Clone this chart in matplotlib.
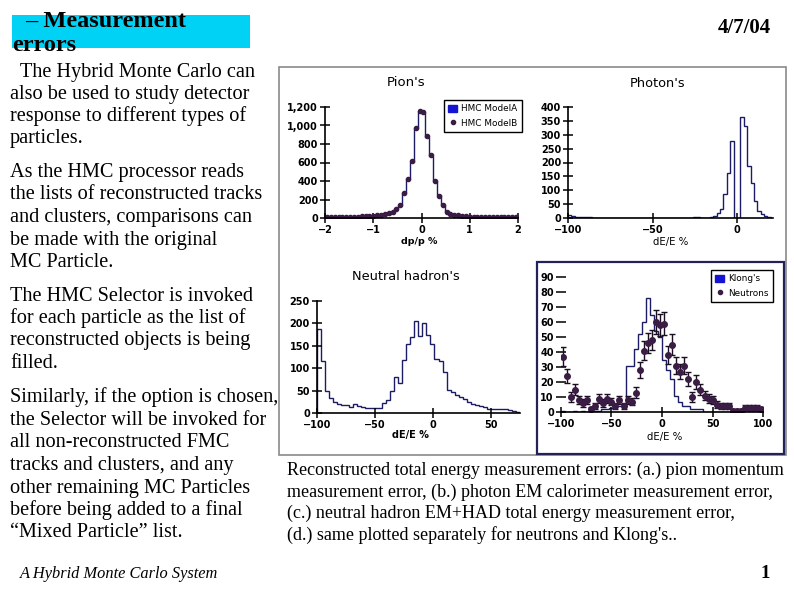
import numpy as np
import matplotlib
matplotlib.use('Agg')
import matplotlib.pyplot as plt
from matplotlib.patches import Rectangle, Patch
from matplotlib.lines import Line2D
from matplotlib.ticker import FuncFormatter

# ---------------- data ----------------
pion_centers = np.round(np.arange(-1.96, 1.97, 0.08), 2)
pion_modelB = [8, 9, 10, 10, 11, 12, 13, 14, 15, 17, 18, 20, 24, 28, 33, 40, 50, 60, 100, 144,
               267, 425, 612, 973, 1160,
               1150, 883, 677, 403, 241, 144, 60, 47, 36, 28, 22, 18, 15, 13, 12,
               11, 10, 9, 9, 8, 8, 7, 7, 6, 6]
pion_modelA = [7, 9, 10, 11, 11, 12, 12, 14, 15, 16, 18, 21, 23, 29, 34, 41, 52, 62, 98, 140,
               270, 420, 610, 975, 1155,
               1150, 880, 670, 400, 245, 140, 62, 46, 37, 27, 22, 18, 16, 13, 12,
               11, 10, 9, 8, 8, 8, 7, 7, 6, 6]
pion_ticks = [-2, -1, 0, 1, 2]

photon_edges = np.arange(-100, 21, 2)
photon_counts = [10, 7, 3, 5, 5, 4, 5] + [0] * 30 + \
                [4, 2, 0, 0, 1, 3, 6, 19, 34, 85, 161, 277, 0, 0,
                 365, 330, 186, 125, 60, 26, 15, 7, 3]
photon_ticks = [-100, -50, 0]

nh_edges = np.linspace(-100, 75, 51)
nh_counts = [187, 116, 50, 33, 25, 20, 18, 18, 14, 21,
             16, 14, 12, 12, 12, 12, 22, 28, 48, 80,
             68, 118, 155, 170, 206, 172, 200, 174, 155, 121,
             116, 92, 52, 46, 41, 36, 31, 25, 19, 17,
             16, 13, 9, 9, 8, 8, 8, 6, 5, 3]
nh_ticks = [-100, -50, 0, 50]

sep_edges = np.linspace(-100, 100, 51)
sep_centers = np.arange(-98, 99, 4)
klong_counts = [1, 0, 0, 1, 0, 1, 0, 1, 1, 1,
                2, 2, 3, 4, 4, 4, 31, 31, 42, 52,
                60, 76, 65, 54, 50, 35, 28, 22, 11, 7,
                4, 4, 2, 2, 2, 0, 0, 0, 0, 0,
                0, 0, 1, 1, 0, 0, 0, 0, 0, 0]
neutron_counts = [37, 24, 10, 15, 8, 6, 8, 2, 4, 9,
                  6, 9, 7, 4, 8, 4, 8, 7, 13, 28,
                  41, 46, 48, 60, 58, 59, 38, 45, 31, 27,
                  31, 22, 10, 20, 15, 11, 9, 8, 5, 4,
                  4, 4, 1, 1, 1, 3, 3, 3, 3, 2]
neutron_err = [6.1, 4.9, 3.2, 3.9, 2.8, 2.4, 2.8, 1.4, 2.0, 3.0,
               2.4, 3.0, 2.6, 2.0, 2.8, 2.0, 2.8, 2.6, 3.6, 5.3,
               6.4, 6.8, 6.9, 7.7, 7.6, 7.7, 6.2, 6.7, 5.6, 5.2,
               5.6, 4.7, 3.2, 4.5, 3.9, 3.3, 3.0, 2.8, 2.2, 2.0,
               2.0, 2.0, 1.0, 1.0, 1.0, 1.7, 1.7, 1.7, 1.7, 1.4]
sep_ticks = [-100, -50, 0, 50, 100]

left_text = [
    ("  The Hybrid Monte Carlo can", 77),
    ("also be used to study detector", 99),
    ("response to different types of", 121),
    ("particles.", 143),
    ("As the HMC processor reads", 177),
    ("the lists of reconstructed tracks", 199),
    ("and clusters, comparisons can", 222),
    ("be made with the original", 245),
    ("MC Particle.", 267),
    ("The HMC Selector is invoked", 301),
    ("for each particle as the list of", 323),
    ("reconstructed objects is being", 345),
    ("filled.", 368),
    ("Similarly, if the option is chosen,", 402),
    ("the Selector will be invoked for", 425),
    ("all non-reconstructed FMC", 447),
    ("tracks and clusters, and any", 470),
    ("other remaining MC Particles", 493),
    ("before being added to a final", 515),
    ("\u201cMixed Particle\u201d list.", 537),
]
caption = [
    "Reconstructed total energy measurement errors: (a.) pion momentum",
    "measurement error, (b.) photon EM calorimeter measurement error,",
    "(c.) neutral hadron EM+HAD total energy measurement error,",
    "(d.) same plotted separately for neutrons and Klong's..",
]

# ---------------- figure ----------------
W, H = 794, 595
fig = plt.figure(figsize=(W / 100, H / 100), dpi=100)
SERIF = ['Liberation Serif', 'DejaVu Serif']
NAVY = '#1c1c64'
DOT = '#3a1c44'
BLUE = '#1414d2'


def fx(x):
    return x / W


def fy(y):
    return 1 - y / H


def axes_px(l, t, r, b):
    return fig.add_axes([fx(l), fy(b), (r - l) / W, (b - t) / H])


def style(ax, show_left=True):
    for s in ['top', 'right']:
        ax.spines[s].set_visible(False)
    ax.spines['left'].set_visible(show_left)
    for s in ['left', 'bottom']:
        ax.spines[s].set_linewidth(1.2)
    ax.tick_params(direction='inout', length=7, width=1.1, labelsize=7, pad=1.5)
    for lab in ax.get_xticklabels() + ax.get_yticklabels():
        lab.set_fontweight('bold')
    ax.set_facecolor('none')


# header
fig.patches.append(Rectangle((fx(12), fy(48)), 238 / W, 33 / H, transform=fig.transFigure,
                             facecolor='#00d2f5', edgecolor='none', zorder=-2))
fig.text(fx(25), fy(27), "\u2013 Measurement", fontsize=17.5, fontweight='bold',
         family=SERIF, va='baseline', ha='left')
fig.text(fx(12), fy(51), "errors", fontsize=17.5, fontweight='bold',
         family=SERIF, va='baseline', ha='left')
fig.text(fx(771), fy(33), "4/7/04", fontsize=15, fontweight='bold',
         family=SERIF, va='baseline', ha='right')

for txt, yb in left_text:
    fig.text(fx(10), fy(yb), txt, fontsize=14.6, family=SERIF, va='baseline', ha='left')

for i, txt in enumerate(caption):
    fig.text(fx(287), fy(475 + 21.7 * i), txt, fontsize=13, family=SERIF,
             va='baseline', ha='left')

fig.text(fx(20), fy(578), "A Hybrid Monte Carlo System", fontsize=11.8, style='italic',
         family=SERIF, va='baseline', ha='left')
fig.text(fx(770), fy(578), "1", fontsize=13.5, fontweight='bold', family=SERIF,
         va='baseline', ha='right')

# frames
fig.patches.append(Rectangle((fx(279), fy(455)), (786 - 279) / W, (455 - 67) / H,
                             transform=fig.transFigure, facecolor='none',
                             edgecolor='#8a8a8a', lw=1.2, zorder=-1))
fig.patches.append(Rectangle((fx(537), fy(454)), (784 - 537) / W, (454 - 262) / H,
                             transform=fig.transFigure, facecolor='white',
                             edgecolor='#22225a', lw=1.6, zorder=-1))

# ---- (a) Pion's ----
ax = axes_px(325, 107, 518, 218)
ax.stairs(pion_modelA, np.linspace(-2, 2, 51), color=NAVY, lw=1.0)
ax.errorbar(pion_centers, pion_modelB, xerr=0.03, fmt='o', ms=3, color=DOT, lw=0.8,
            capsize=0)
ax.set_xlim(-2, 2)
ax.set_ylim(0, 1200)
ax.set_xticks(pion_ticks)
ax.set_yticks(range(0, 1201, 200))
ax.yaxis.set_major_formatter(FuncFormatter(lambda v, p: f"{v:,.0f}"))
ax.set_xticklabels(["\u22122", "\u22121", "0", "1", "2"])
style(ax)
fig.text(fx(406), fy(83), "Pion's", fontsize=9.5, ha='center', va='center')
fig.text(fx(419), fy(242), "dp/p %", fontsize=6.8, fontweight='bold', ha='center', va='center')
ax.legend([Patch(facecolor=BLUE, edgecolor=BLUE),
           Line2D([], [], marker='o', ls='none', color=DOT, ms=3)],
          ["HMC ModelA", "HMC ModelB"], loc='upper left',
          bbox_to_anchor=(fx(444), fy(100)), bbox_transform=fig.transFigure,
          fontsize=6.4, frameon=True, fancybox=False, edgecolor='black', framealpha=1,
          handlelength=1.0, handleheight=0.9, handletextpad=0.4, borderpad=0.5,
          labelspacing=0.6, borderaxespad=0)

# ---- (b) Photon's ----
ax = axes_px(568, 107, 772.5, 218)
ax.stairs(photon_counts, photon_edges, color=NAVY, lw=1.0)
ax.set_xlim(-100, 21)
ax.set_ylim(0, 400)
ax.set_xticks(photon_ticks)
ax.set_xticklabels(["\u2212100", "\u221250", "0"])
ax.set_yticks(range(0, 401, 50))
style(ax)
fig.text(fx(658), fy(84), "Photon's", fontsize=9.3, ha='center', va='center')
fig.text(fx(671), fy(242), "dE/E %", fontsize=7.3, ha='center', va='center')

# ---- (c) Neutral hadron's ----
ax = axes_px(316.7, 301, 519.7, 413)
ax.stairs(nh_counts, nh_edges, color=NAVY, lw=1.0)
ax.set_xlim(-100, 75)
ax.set_ylim(0, 250)
ax.set_xticks(nh_ticks)
ax.set_xticklabels(["\u2212100", "\u221250", "0", "50"])
ax.set_yticks(range(0, 251, 50))
style(ax)
fig.text(fx(406), fy(277), "Neutral hadron's", fontsize=9.3, ha='center', va='center')
fig.text(fx(410), fy(435), "dE/E %", fontsize=7, fontweight='bold', ha='center', va='center')

# ---- (d) Neutrons and Klong's ----
ax = axes_px(560.7, 277, 763.3, 412)
ax.stairs(klong_counts, sep_edges, color=NAVY, lw=1.0)
nc = np.array(neutron_counts, dtype=float)
mask = nc > 0
ax.errorbar(sep_centers[mask], nc[mask], yerr=np.array(neutron_err)[mask], fmt='o', ms=4,
            color=DOT, ecolor='#1a0f20', lw=1.0, capsize=2.5, capthick=1.0)
ax.set_xlim(-100, 100)
ax.set_ylim(0, 90)
ax.set_xticks(sep_ticks)
ax.set_xticklabels(["\u2212100", "\u221250", "0", "50", "100"])
ax.set_yticks(range(0, 91, 10))
style(ax, show_left=False)
fig.text(fx(665), fy(437), "dE/E %", fontsize=7.3, ha='center', va='center')
ax.legend([Patch(facecolor=BLUE, edgecolor=BLUE),
           Line2D([], [], marker='o', ls='none', color=DOT, ms=3)],
          ["Klong's", "Neutrons"], loc='upper left',
          bbox_to_anchor=(fx(711), fy(270)), bbox_transform=fig.transFigure,
          fontsize=6.4, frameon=True, fancybox=False, edgecolor='black', framealpha=1,
          handlelength=1.0, handleheight=0.9, handletextpad=0.4, borderpad=0.5,
          labelspacing=0.6, borderaxespad=0)

fig.savefig('out.png', dpi=100)
